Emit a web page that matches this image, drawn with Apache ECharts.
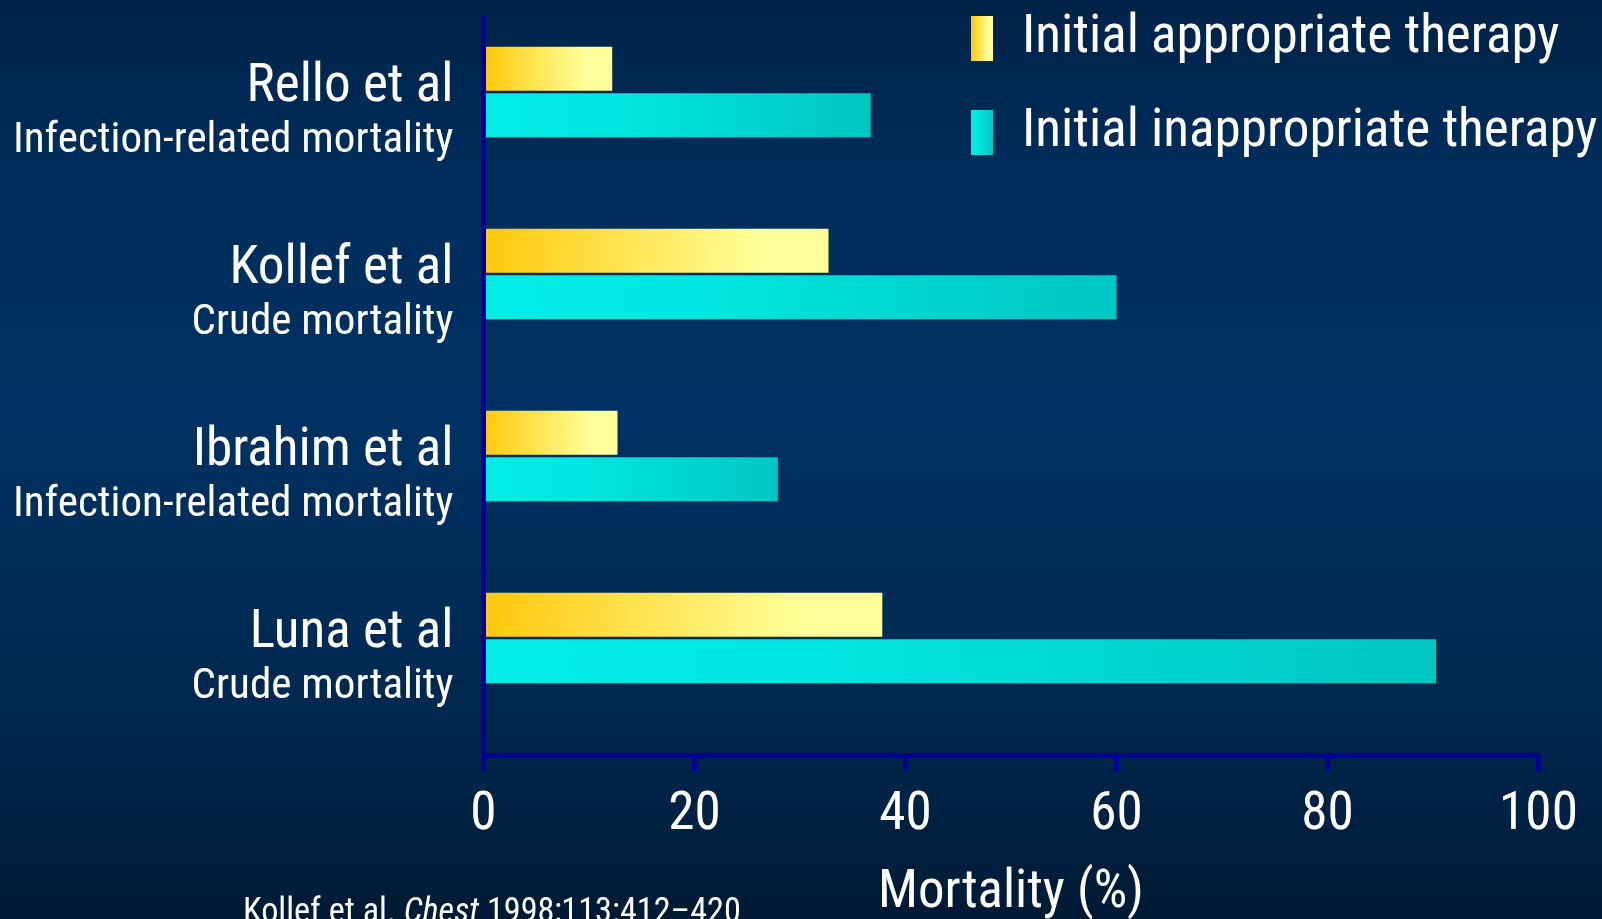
<!DOCTYPE html>
<html>
<head>
<meta charset="utf-8">
<style>
    html, body { margin: 0; padding: 0; }
    #chart { width: 1602px; height: 919px; }
</style>
<script src="https://cdn.jsdelivr.net/npm/echarts@6/dist/echarts.min.js"></script>
</head>
<body>
<div id="chart"></div>
<script>
// 数据
const studies = ['Rello et al', 'Kollef et al', 'Ibrahim et al', 'Luna et al']
const measures = ['Infection-related mortality', 'Crude mortality', 'Infection-related mortality', 'Crude mortality']
const appropriate = [12.2, 32.7, 12.7, 37.8]
const inappropriate = [36.7, 60, 27.9, 90.3]
const seriesNames = ['Initial appropriate therapy', 'Initial inappropriate therapy']
const xMin = 0
const xMax = 100
const xStep = 20

const AXIS_COLOR = '#000099'

// 原图是窄体字（Arial Narrow），挑一个可用的最窄字体，再按原图文字宽度定字号
const ctx = document.createElement('canvas').getContext('2d')
const measureText = (font, text) => {
    ctx.font = font
    return ctx.measureText(text).width
}
const SAMPLE = 'Initial appropriate therapy'
const hasFont = (name) =>
    measureText(`57px '${name}', monospace`, SAMPLE) !== measureText('57px monospace', SAMPLE) ||
    measureText(`57px '${name}', serif`, SAMPLE) !== measureText('57px serif', SAMPLE)
const candidates = ['Roboto Condensed', 'Noto Sans ExtraCondensed', 'Noto Sans Condensed', 'Open Sans Condensed',
    'Liberation Sans Narrow', 'Arial Narrow', 'DejaVu Sans Condensed', 'Liberation Sans']
const fontName = candidates.find(hasFont) || 'sans-serif'
const FONT = `'${fontName}', sans-serif`
// 让 text 在字号 base 下的宽度变成 width
const fit = (text, width, base) => {
    const w = measureText(`${base}px ${FONT}`, text)
    return Math.round(base * width / w * 10) / 10
}
const legendSize = fit(SAMPLE, 538, 57)
const studySize = fit('Ibrahim et al', 261, 57)
const measureSize = fit('Infection-related mortality', 441, 48)
const tickSize = legendSize
const nameSize = fit('Mortality (%)', 266, 57)
const citeSize = fit('Kollef et al. Chest 1998;113:412–420', 500, 38)

const grad = (stops) => ({
    type: 'linear', x: 0, y: 0, x2: 1, y2: 0,
    colorStops: stops.map(([offset, color]) => ({ offset, color })),
})
const yellow = grad([[0, '#FFC80A'], [0.8, '#FFFF99'], [1, '#FFFF99']])
const cyan = grad([[0, '#00EDE5'], [0.35, '#00E6E0'], [1, '#00C6C2']])

const chart = echarts.init(document.getElementById('chart'))

const option = {
    backgroundColor: {
        type: 'linear', x: 0, y: 0, x2: 0, y2: 1,
        colorStops: [
            { offset: 0, color: '#002348' },
            { offset: 0.18, color: '#002D5B' },
            { offset: 0.45, color: '#003263' },
            { offset: 0.78, color: '#00284F' },
            { offset: 1, color: '#001A35' },
        ],
    },
    animation: false,
    textStyle: { fontFamily: FONT, color: '#FFFFFF' },
    title: {
        text: '{a|Kollef et al. }{b|Chest}{a| 1998;113:412–420}',
        left: 243,
        top: 896,
        padding: 0,
        textStyle: {
            rich: {
                a: { fontFamily: FONT, fontSize: citeSize, fontWeight: 'normal', color: '#FFFFFF' },
                b: { fontFamily: FONT, fontSize: citeSize, fontWeight: 'normal', color: '#FFFFFF', fontStyle: 'italic' },
            },
        },
    },
    legend: {
        orient: 'vertical',
        left: 971,
        top: 12,
        padding: 0,
        itemWidth: 22,
        itemHeight: 45,
        itemGap: 41,
        icon: 'rect',
        data: seriesNames,
        textStyle: {
            fontFamily: FONT,
            fontSize: legendSize,
            lineHeight: 45,
            color: '#FFFFFF',
            padding: [0, 0, 0, 24],
        },
    },
    grid: [
        // 柱子
        { left: 483.5, top: 1, width: 1055, height: 728, outerBoundsMode: 'none' },
        // 坐标轴
        { left: 483.5, top: 18, width: 1055, height: 737, outerBoundsMode: 'none' },
    ],
    xAxis: [
        {
            gridIndex: 0, type: 'value', min: xMin, max: xMax, interval: xStep,
            show: false,
        },
        {
            gridIndex: 1, type: 'value', min: xMin, max: xMax, interval: xStep,
            z: 5,
            axisLine: { show: true, lineStyle: { color: AXIS_COLOR, width: 5 } },
            axisTick: { show: true, length: 16, lineStyle: { color: AXIS_COLOR, width: 5 } },
            splitLine: { show: false },
            axisLabel: { color: '#FFFFFF', fontSize: tickSize, fontFamily: FONT, margin: 34 },
            name: 'Mortality (%)',
            nameLocation: 'middle',
            nameGap: 112,
            nameTextStyle: { color: '#FFFFFF', fontSize: nameSize, fontFamily: FONT },
        },
    ],
    yAxis: [
        {
            gridIndex: 0, type: 'category', inverse: true, data: studies,
            axisLine: { show: false },
            axisTick: { show: false },
            axisLabel: {
                margin: 30,
                padding: [40, 0, 0, 0],
                formatter: (value, index) => `{a|${value}}\n{b|${measures[index]}}`,
                rich: {
                    a: { fontFamily: FONT, fontSize: studySize, lineHeight: 58, color: '#FFFFFF', align: 'right' },
                    b: { fontFamily: FONT, fontSize: measureSize, lineHeight: 48, color: '#FFFFFF', align: 'right' },
                },
            },
        },
        {
            gridIndex: 1, type: 'value', min: 0, max: 1,
            z: 5,
            axisLine: { show: true, lineStyle: { color: AXIS_COLOR, width: 5 } },
            axisTick: { show: false },
            axisLabel: { show: false },
            splitLine: { show: false },
        },
    ],
    series: [
        {
            name: seriesNames[0], type: 'bar', xAxisIndex: 0, yAxisIndex: 0,
            barWidth: 44, barGap: '6%',
            itemStyle: { color: yellow },
            data: appropriate,
        },
        {
            name: seriesNames[1], type: 'bar', xAxisIndex: 0, yAxisIndex: 0,
            barWidth: 44, barGap: '6%',
            itemStyle: { color: cyan },
            data: inappropriate,
        },
    ],
}

chart.setOption(option)
</script>
</body>
</html>
